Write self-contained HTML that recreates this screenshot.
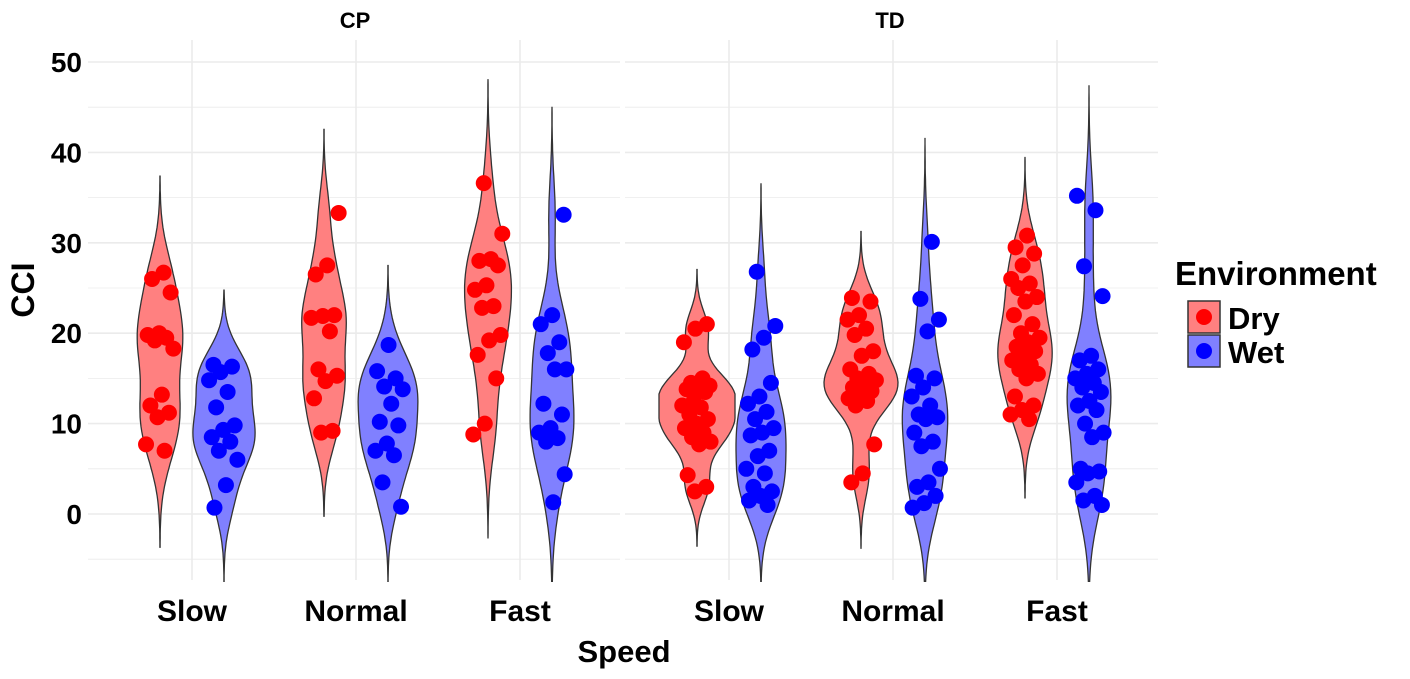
<!DOCTYPE html>
<html><head><meta charset="utf-8"><style>
body{margin:0;background:#fff}
svg text{font-family:"Liberation Sans",Arial,sans-serif;font-weight:bold;fill:#000}
</style></head><body>
<svg id="chart" width="1410" height="674" xmlns="http://www.w3.org/2000/svg">
<defs><clipPath id="pclip"><rect x="0" y="30" width="1170" height="552"/></clipPath></defs>
<g id="grid"></g><g id="marks" clip-path="url(#pclip)"></g><g id="labels"></g>
<text x="355" y="28" font-size="22" text-anchor="middle">CP</text>
<text x="890" y="28" font-size="22" text-anchor="middle">TD</text>
<text x="624" y="662" font-size="31" text-anchor="middle">Speed</text>
<text x="34" y="290" font-size="32" text-anchor="middle" transform="rotate(-90 34 290)">CCI</text>
<g>
<text x="1175" y="285" font-size="33">Environment</text>
<g><rect x="1188" y="301" width="32" height="32" fill="#ff8080" stroke="#333" stroke-width="1.5"/><circle cx="1204" cy="317" r="8" fill="#ff0000"/><text x="1228" y="329" font-size="31">Dry</text></g>
<g><rect x="1188" y="335" width="32" height="32" fill="#8080ff" stroke="#333" stroke-width="1.5"/><circle cx="1204" cy="351" r="8" fill="#0000ff"/><text x="1228" y="363" font-size="31">Wet</text></g>
</g>
</svg>
<script>
const panels=["CP","TD"];
const speeds=["Slow","Normal","Fast"];
const envs=["Dry","Wet"];
const yTicks=[0,10,20,30,40,50];
const cpSlowDry=[26.7,26,24.5,20,19.8,19.5,19.2,18.3,13.2,12,11.2,10.7,7.7,7.0];
const cpSlowWet=[16.5,16.3,15.7,14.8,13.5,11.8,9.8,9.3,8.5,8,7,6,3.2,0.7];
const cpNormalDry=[33.3,27.5,26.5,22,21.9,21.7,20.2,16,15.3,14.7,12.8,9.2,9.0];
const cpNormalWet=[18.7,15.8,15,14.1,13.8,12.2,10.2,9.8,7.8,7,6.5,3.5,0.8];
const cpFastDry=[36.6,31,28.2,28,27.5,25.3,24.8,23,22.8,19.8,19.2,17.6,15,10,8.8];
const cpFastWet=[33.1,22,21,19,17.8,16,16,12.2,11,9.5,9,8.4,8,4.4,1.3];
const tdSlowDry=[21,20.5,19,15,14.5,14.2,14,13.8,13.5,12.5,12,11.8,11,10.5,10,9.5,9,8.5,8,7.7,4.3,3,2.5];
const tdSlowWet=[26.8,20.8,19.5,18.2,14.5,13,12.2,11.3,10.5,9.5,9,8.7,7,6.4,5,4.5,3,2.5,2,1.5,1];
const tdNormalDry=[23.9,23.5,22,21.5,20.5,19.8,18,17.5,16,15.5,15,14.8,14.5,14,13.6,13.2,12.8,12.5,12,7.7,4.5,3.5];
const tdNormalWet=[30.1,23.8,21.5,20.2,15.3,15,14,13,12,11,10.7,10.5,9,8,7.5,5,3.5,3,2,1.2,0.7];
const tdFastDry=[30.8,29.5,28.8,27.5,26,25.5,25,24,23.5,22,21,20,19.5,19,18.5,18,17.5,17,16.5,16,15.5,15,13,12,11.5,11,10.5];
const tdFastWet=[35.2,33.6,27.4,24.1,17.5,17,16,15.5,15,14.5,14,13.5,12.5,12,11.5,10,9,8.5,5,4.7,4.5,3.5,2,1.5,1];
const groups=[[ [cpSlowDry,cpSlowWet],[cpNormalDry,cpNormalWet],[cpFastDry,cpFastWet] ],
              [ [tdSlowDry,tdSlowWet],[tdNormalDry,tdNormalWet],[tdFastDry,tdFastWet] ]];
const NS="http://www.w3.org/2000/svg";
const panelX=[[88,620],[625,1158]], panelTop=40, panelBot=580;
const y=v=>514-9.04*v;
const xCat=(p,i)=>panelX[p][0]+104+i*164;
function mk(t,a,parent){const e=document.createElementNS(NS,t);for(const k in a)e.setAttribute(k,a[k]);parent.appendChild(e);return e;}
const grid=document.getElementById('grid'),marks=document.getElementById('marks'),labels=document.getElementById('labels');
panels.forEach((pn,p)=>{
  for(let v=-5;v<=50;v+=5){const l=mk('line',{x1:panelX[p][0],x2:panelX[p][1],y1:y(v),y2:y(v),stroke:'#ebebeb','stroke-width':v%10===0?1.6:0.8},grid);
    }
  speeds.forEach((s,i)=>{const l=mk('line',{x1:xCat(p,i),x2:xCat(p,i),y1:panelTop,y2:panelBot,stroke:'#ebebeb','stroke-width':1.6},grid);
    
    const t=mk('text',{x:xCat(p,i),y:621,'font-size':30,'text-anchor':'middle'},labels);t.textContent=s;
    });
});
yTicks.forEach(v=>{const t=mk('text',{x:82,y:y(v)+10,'font-size':28,'text-anchor':'end'},labels);t.textContent=v;
  });
function bw(d){const n=d.length,m=d.reduce((a,b)=>a+b,0)/n,sd=Math.sqrt(d.reduce((a,b)=>a+(b-m)*(b-m),0)/(n-1));
  const s=[...d].sort((a,b)=>a-b),q=f=>{const h=(n-1)*f,lo=Math.floor(h);return s[lo]+(s[Math.min(lo+1,n-1)]-s[lo])*(h-lo);};
  const iqr=(q(.75)-q(.25))/1.34;return 0.9*Math.min(sd,iqr>0?iqr:sd)*Math.pow(n,-0.2);}
function dens(d,h,v){let s=0;d.forEach(x=>{const z=(v-x)/h;s+=Math.exp(-z*z/2);});return s/(d.length*h*Math.sqrt(2*Math.PI));}
const K=40/0.085;
groups.forEach((pg,p)=>pg.forEach((pair,i)=>pair.forEach((d,e)=>{
  const cx=xCat(p,i)+(e===0?-32:32),h=bw(d)*1.05,lo=Math.min(...d)-3*h,hi=Math.max(...d)+3*h;
  const L=[],R=[];for(let k=0;k<=80;k++){const v=lo+(hi-lo)*k/80,w=Math.min(dens(d,h,v)*K,38);R.push((cx+w).toFixed(1)+','+y(v).toFixed(1));L.unshift((cx-w).toFixed(1)+','+y(v).toFixed(1));}
  const vp=mk('polygon',{points:R.concat(L).join(' '),fill:e===0?'#ff8080':'#8080ff',stroke:'#333','stroke-width':1.3},marks);
  
  
  d.forEach((v,k)=>{const f=((k+1)*0.6180339+i*0.37+p*0.21+e*0.53)%1;const j=(f-0.5)*30;
    const c=mk('circle',{cx:cx+j,cy:y(v),r:8,fill:e===0?'#ff0000':'#0000ff'},marks);
    
    });
})));
</script>
</body></html>
